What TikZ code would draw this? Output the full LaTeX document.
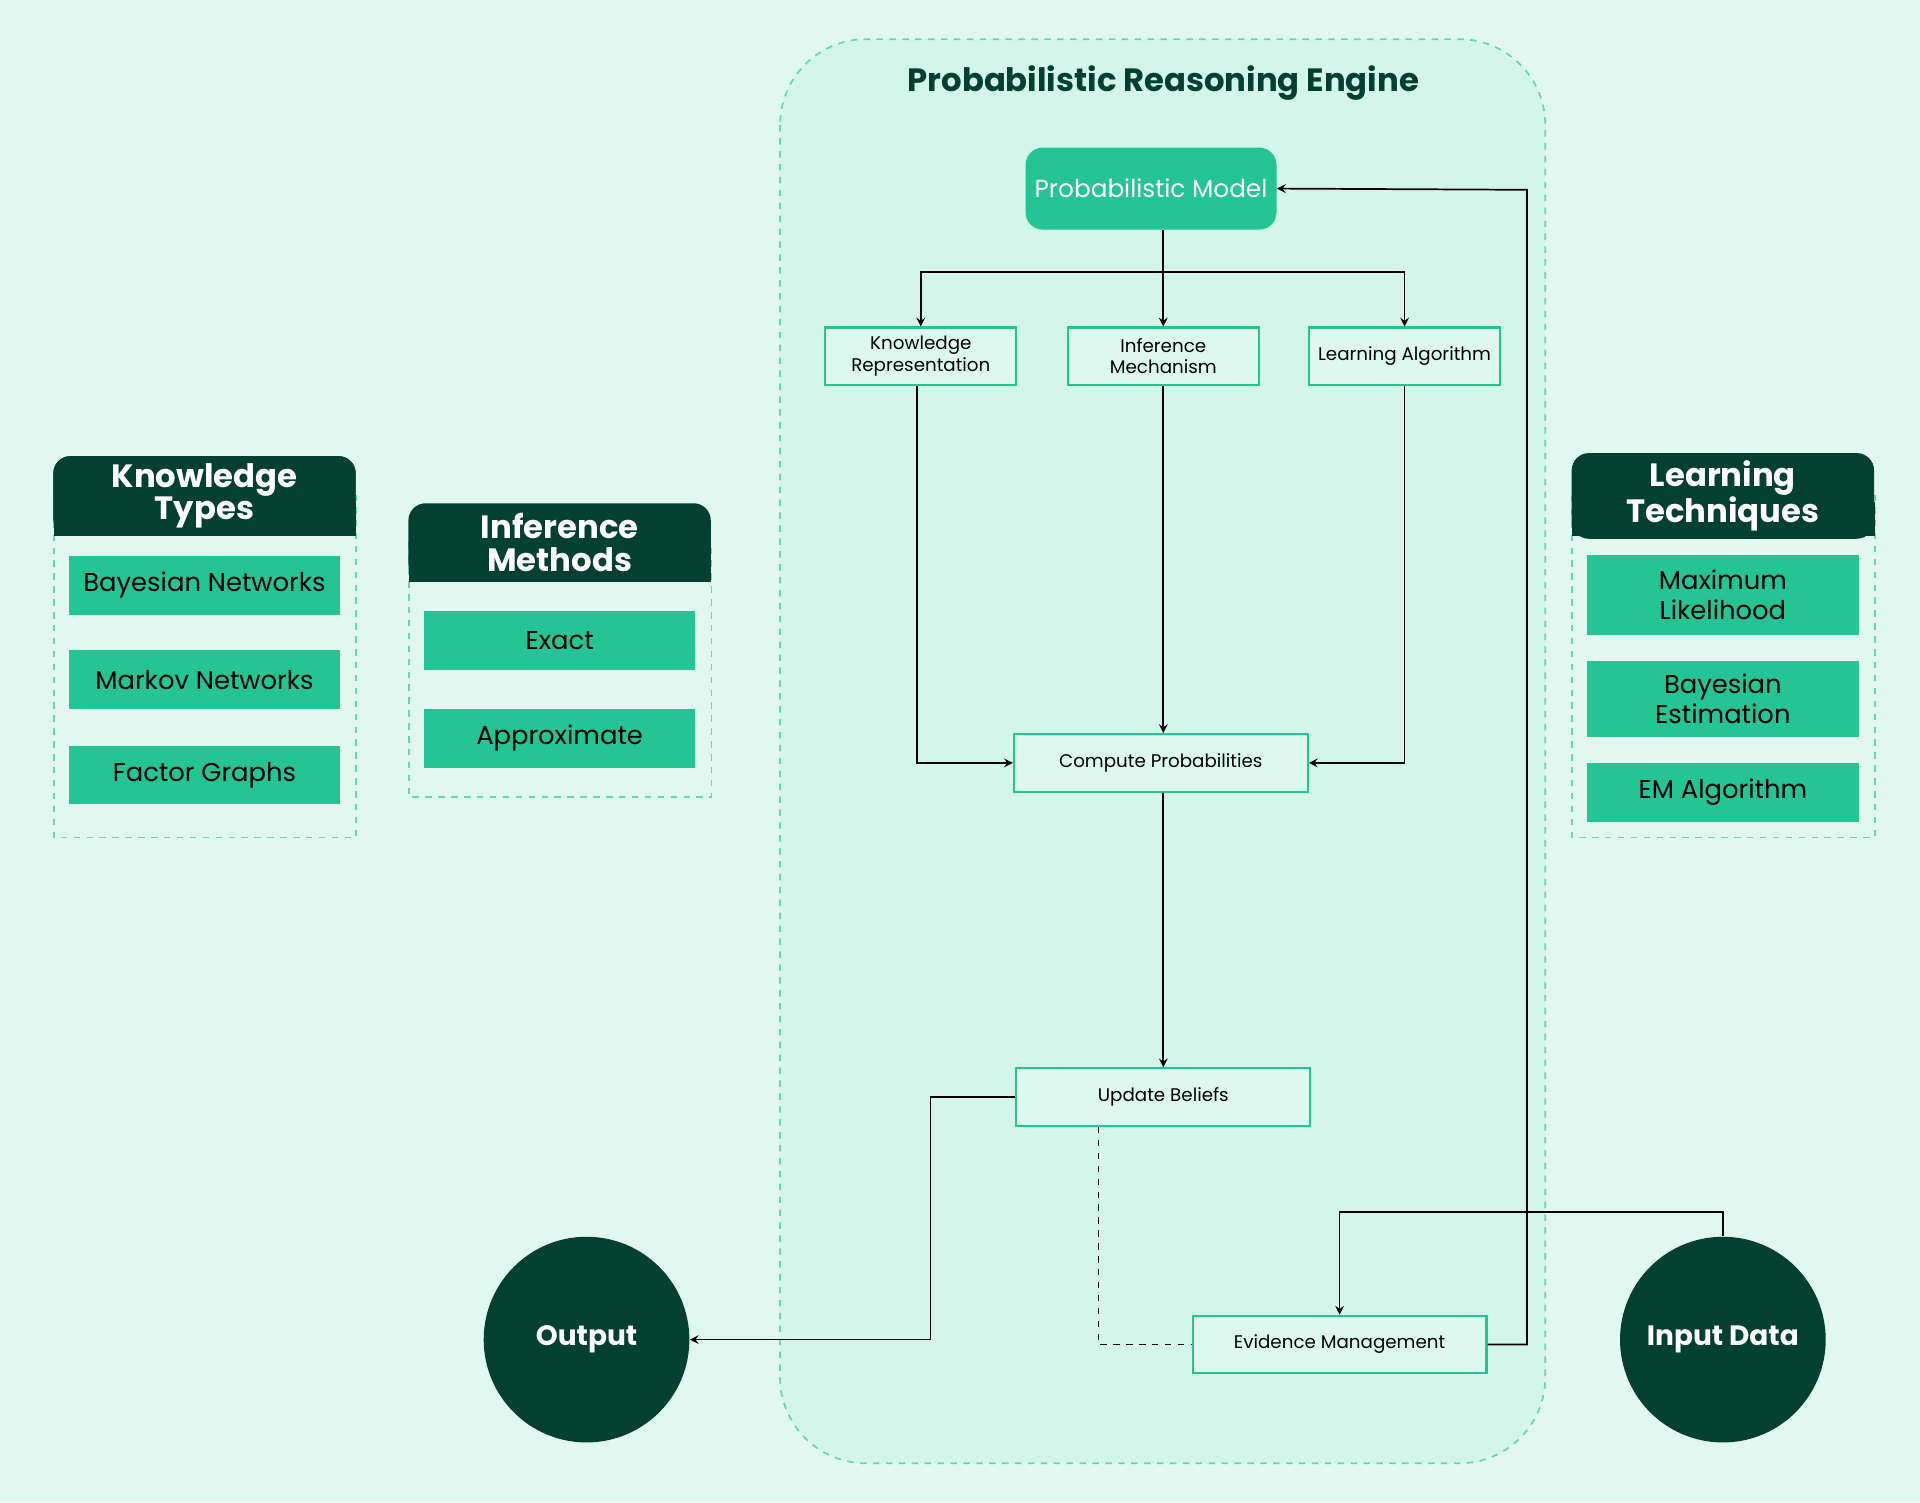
\documentclass[tikz,border=0pt]{standalone}
\usepackage{fontspec}
\setmainfont{Poppins}
\usetikzlibrary{positioning}
\definecolor{bgmint}{HTML}{E0F8EF}
\definecolor{engfill}{HTML}{C9F4E5}
\definecolor{mgreen}{HTML}{24C495}
\definecolor{dgreen}{HTML}{03402F}
\definecolor{boxfill}{HTML}{DDF8EE}
\begin{document}
\begin{tikzpicture}[x=0.02cm, y=-0.02cm,
	box/.style={draw=mgreen, line width=1pt, fill=boxfill, minimum width=3.12cm, minimum height=0.94cm, align=center, font=\fontsize{8.5}{10}\selectfont, inner sep=1pt},
	wide/.style={box, minimum width=4.8cm},
	item/.style={fill=mgreen, minimum width=4.44cm, minimum height=0.96cm, align=center, font=\fontsize{12}{14}\selectfont, inner sep=1pt, text=black},
	head/.style={fill=dgreen, text=white, font=\bfseries\fontsize{15}{15}\selectfont, align=center, rounded corners=8pt},
	panel/.style={draw=mgreen!70, dashed, line width=0.8pt},
	circ/.style={circle, fill=dgreen, text=white, minimum size=3.36cm, font=\bfseries\fontsize{13}{15}\selectfont},
	arr/.style={->, >=stealth, line width=0.8pt}]
	\fill[bgmint] (0,0) rectangle (1568,1227);
	\useasboundingbox (0,0) rectangle (1568,1227);

	% engine container
	\draw[panel, fill=engfill!80, rounded corners=40pt] (637,32) rectangle (1262,1195);
	\node[text=dgreen, font=\bfseries\fontsize{15}{15}\selectfont] (title) at (950,68) {Probabilistic Reasoning Engine};

	\node[fill=mgreen, rounded corners=8pt, minimum width=4.1cm, minimum height=1.34cm, text=white, font=\fontsize{11.5}{13}\selectfont] (pm) at (940,154) {Probabilistic Model};
	\node[box] (kr) at (752,291) {Knowledge\\Representation};
	\node[box] (im) at (950,291) {Inference\\Mechanism};
	\node[box] (la) at (1147,291) {Learning Algorithm};
	\node[wide] (cp) at (948,623) {Compute Probabilities};
	\node[wide] (ub) at (950,896) {Update Beliefs};
	\node[wide] (em) at (1094,1098) {Evidence Management};

	\node[circ] (out) at (479,1094) {Output};
	\node[circ] (in) at (1407,1094) {Input Data};

	% side panels
	\draw[panel] (44,405) rectangle (291,684);
	\node[head, minimum width=4.94cm, minimum height=1.3cm] (kt) at (167,405) {Knowledge\\Types};
	\fill[dgreen] (44,410) rectangle (291,438);
	\node[head, minimum width=4.94cm, minimum height=1.3cm] at (167,405) {Knowledge\\Types};
	\node[item] (bn) at (167,478) {Bayesian Networks};
	\node[item] (mn) at (167,555) {Markov Networks};
	\node[item] (fg) at (167,633) {Factor Graphs};

	\draw[panel] (334,443) rectangle (581,651);
	\fill[dgreen] (334,448) rectangle (581,475);
	\node[head, minimum width=4.94cm, minimum height=1.28cm] (imeth) at (457,443) {Inference\\Methods};
	\node[item] (ex) at (457,523) {Exact};
	\node[item] (ap) at (457,603) {Approximate};

	\draw[panel] (1284,405) rectangle (1531,684);
	\fill[dgreen] (1284,410) rectangle (1531,438);
	\node[head, minimum width=4.94cm, minimum height=1.3cm] (lt) at (1407,405) {Learning\\Techniques};
	\node[item, minimum height=1.3cm] (ml) at (1407,486) {Maximum\\Likelihood};
	\node[item, minimum height=1.24cm] (be) at (1407,571) {Bayesian\\Estimation};
	\node[item] (ema) at (1407,647) {EM Algorithm};

	% connectors
	\coordinate (split) at (950,222);
	\draw[line width=0.8pt] (pm.south -| split) -- (split);
	\draw[arr] (split) -| (kr.north);
	\draw[arr] (split) -- (im.north);
	\draw[arr] (split) -| (la.north);
	\draw[arr] (kr.south -| 749,0) |- (cp.west);
	\draw[arr] (im.south) -- (cp.north -| im.south);
	\draw[arr] (la.south) |- (cp.east);
	\draw[arr] (cp.south -| im.south) -- (ub.north);
	\draw[arr] (ub.west) -| (760,1094) -- (out.east);
	\draw[line width=0.8pt, dashed] (ub.south -| 897,0) |- (em.west);
	\draw[arr] (em.east) -| (1247,155) -- (pm.east);
	\draw[arr] (in.north) |- (1094,990) -- (em.north);
\end{tikzpicture}
\end{document}
